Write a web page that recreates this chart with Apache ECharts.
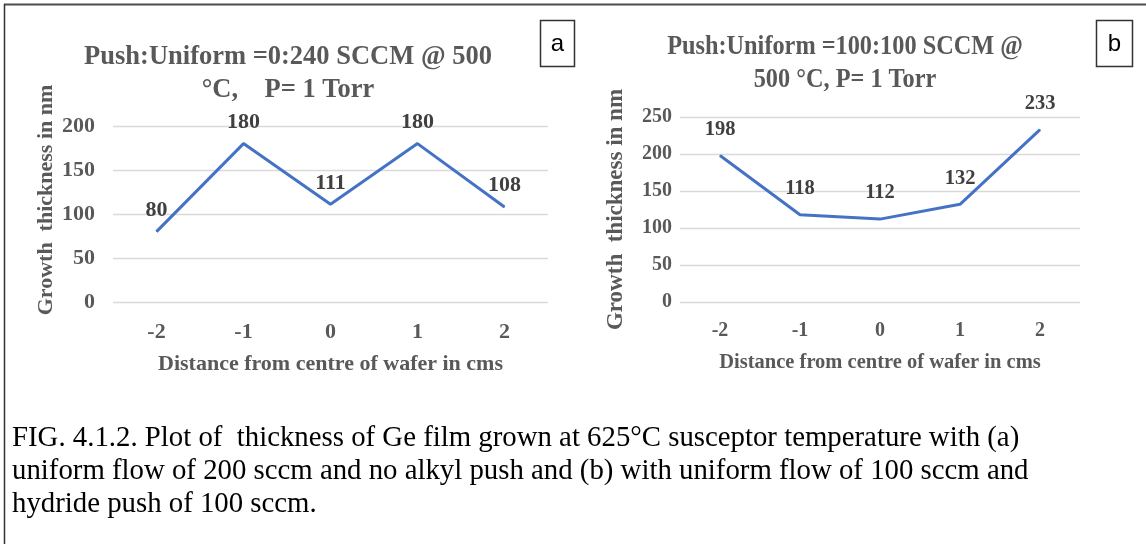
<!DOCTYPE html>
<html><head><meta charset="utf-8">
<script src="https://cdn.jsdelivr.net/npm/echarts@6/dist/echarts.min.js"></script>
<style>html,body{margin:0;padding:0;background:#fff}#c{width:1146px;height:544px}</style>
</head><body><div id="c"></div>
<script>
const categories = ['-2', '-1', '0', '1', '2'];
const seriesA = [80, 180, 111, 180, 108];
const seriesB = [198, 118, 112, 132, 233];
const titleA = 'Push:Uniform =0:240 SCCM @ 500\n°C,    P= 1 Torr';
const titleB = 'Push:Uniform =100:100 SCCM @\n500 °C, P= 1 Torr';
const yName = 'Growth  thickness in nm';
const xName = 'Distance from centre of wafer in cms';
const caption = 'FIG. 4.1.2. Plot of  thickness of Ge film grown at 625\u00B0C susceptor temperature with (a)\nuniform flow of 200 sccm and no alkyl push and (b) with uniform flow of 100 sccm and\nhydride push of 100 sccm.';

const serif = 'Liberation Serif';
const gray = '#595959';
const chart = echarts.init(document.getElementById('c'), null, {renderer: 'canvas'});

function xAx(gi, fs, nfs, gap) {
  return {
    gridIndex: gi, type: 'category', data: categories, boundaryGap: true,
    axisLine: {show: false}, axisTick: {show: false},
    axisLabel: {margin: 19, fontFamily: serif, fontWeight: 'bold', fontSize: fs, color: gray},
    name: xName, nameLocation: 'middle', nameGap: gap,
    nameTextStyle: {fontFamily: serif, fontWeight: 'bold', fontSize: nfs, color: gray}
  };
}
function yAx(gi, max, fs, nfs, margin, gap, pad) {
  return {
    gridIndex: gi, type: 'value', min: 0, max: max, interval: 50,
    axisLine: {show: false}, axisTick: {show: false},
    splitLine: {lineStyle: {color: '#d9d9d9', width: 1.3}},
    axisLabel: {margin: margin, fontFamily: serif, fontWeight: 'bold', fontSize: fs, color: gray},
    name: yName, nameLocation: 'middle', nameGap: gap,
    nameTextStyle: {fontFamily: serif, fontWeight: 'bold', fontSize: nfs, color: gray, padding: pad}
  };
}
function ser(i, data, fs, dist) {
  return {
    type: 'line', xAxisIndex: i, yAxisIndex: i, data: data,
    symbol: 'circle', symbolSize: 1, showSymbol: true,
    lineStyle: {color: '#4472C4', width: 3}, itemStyle: {color: '#4472C4'},
    label: {show: true, position: 'top', distance: dist, fontFamily: serif, fontWeight: 'bold', fontSize: fs, color: '#404040'},
    labelLayout: {hideOverlap: false},
    animation: false
  };
}

chart.setOption({
  animation: false,
  grid: [
    {left: 113, top: 126, width: 435, height: 176},
    {left: 680, top: 117, width: 400, height: 185}
  ],
  xAxis: [xAx(0, 22, 22, 51), xAx(1, 20, 20.5, 50)],
  yAxis: [yAx(0, 200, 22, 22, 18, 56, [0, 0, 0, 28]), yAx(1, 250, 20, 23, 8, 52, 0)],
  series: [ser(0, seriesA, 22, 10), ser(1, seriesB, 20.5, 15)],
  graphic: [
    {type: 'line', shape: {x1: 4, y1: 4.5, x2: 1146, y2: 4.5}, style: {stroke: '#4d4d4d', lineWidth: 2}},
    {type: 'line', shape: {x1: 4.5, y1: 4, x2: 4.5, y2: 544}, style: {stroke: '#333', lineWidth: 1.5}},
    {type: 'text', x: 288, y: 74, style: {text: titleA, font: 'bold 26.5px "Liberation Serif"', fill: gray, align: 'center', verticalAlign: 'middle', lineHeight: 33}},
    {type: 'text', x: 845, y: 63.5, scaleX: 0.9, style: {text: titleB, font: 'bold 27px "Liberation Serif"', fill: gray, align: 'center', verticalAlign: 'middle', lineHeight: 33}},
    {type: 'rect', shape: {x: 540.5, y: 20.5, width: 34, height: 46}, style: {fill: '#fff', stroke: '#333', lineWidth: 1.5}},
    {type: 'text', x: 557.5, y: 44, style: {text: 'a', font: '24px "Liberation Sans"', fill: '#000', align: 'center', verticalAlign: 'middle'}},
    {type: 'rect', shape: {x: 1096.5, y: 20.5, width: 36, height: 46}, style: {fill: '#fff', stroke: '#333', lineWidth: 1.5}},
    {type: 'text', x: 1114.5, y: 44, style: {text: 'b', font: '24px "Liberation Sans"', fill: '#000', align: 'center', verticalAlign: 'middle'}},
    {type: 'text', x: 12, y: 422, style: {text: caption, font: '28.8px "Liberation Serif"', fill: '#000', lineHeight: 33, verticalAlign: 'top'}}
  ]
});
</script></body></html>
